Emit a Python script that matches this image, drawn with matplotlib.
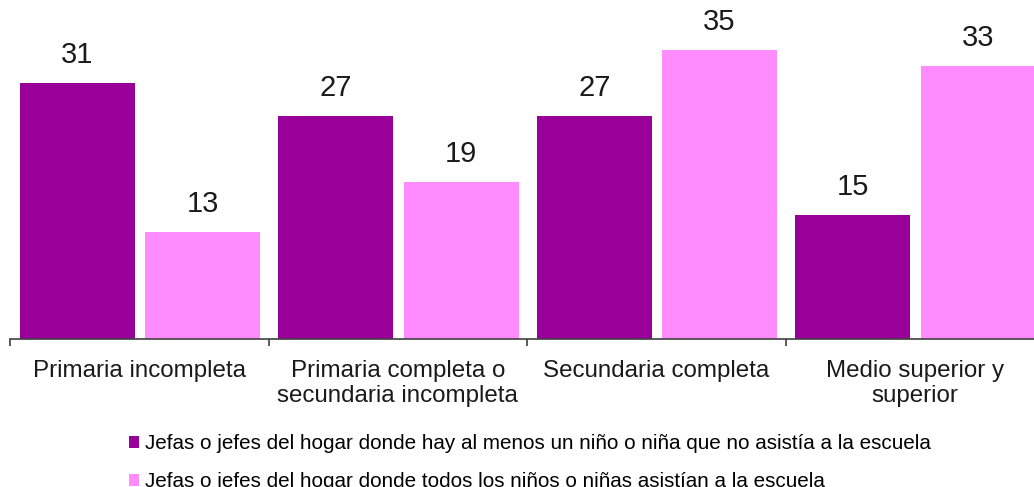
import numpy as np
import matplotlib.pyplot as plt

plt.rcParams['font.family'] = ['Liberation Sans', 'DejaVu Sans']

categories = ['Primaria incompleta',
              'Primaria completa o\nsecundaria incompleta',
              'Secundaria completa',
              'Medio superior y\nsuperior']
no_asiste = [31, 27, 27, 15]
todos_asisten = [13, 19, 35, 33]
series_names = ['Jefas o jefes del hogar donde hay al menos un niño o niña que no asistía a la escuela',
                'Jefas o jefes del hogar donde todos los niños o niñas asistían a la escuela']
purple = '#990099'
pink = '#FF8CFF'

W, H = 1034, 487
fig = plt.figure(figsize=(W/100, H/100), dpi=100)
# axes runs a bit past the right edge, like the original clipped chart
ax = fig.add_axes([10/W, (H-339)/H, 1034/W, 339/H])

x = np.arange(len(categories))
bw = 0.445
b1 = ax.bar(x - 0.239, no_asiste, bw, color=purple)
b2 = ax.bar(x + 0.245, todos_asisten, bw, color=pink)

for bars in (b1, b2):
	for r in bars:
		ax.annotate(str(int(r.get_height())), (r.get_x()+r.get_width()/2, r.get_height()),
			xytext=(0, 10), textcoords='offset points', ha='center', va='bottom',
			fontsize=21, color='#1a1a1a')

ax.set_xlim(-0.5, 3.5)
ax.set_ylim(0, 41)
ax.set_yticks([])
for s in ['top', 'right', 'left']:
	ax.spines[s].set_visible(False)
ax.spines['bottom'].set_color('#404040')
ax.spines['bottom'].set_linewidth(1.2)

ax.set_xticks(np.arange(-0.5, 4.0, 1.0))
ax.set_xticklabels([])
ax.tick_params(axis='x', which='major', direction='out', length=5, width=1.2, color='#404040')
ax.set_xticks(x, minor=True)
ax.set_xticklabels(categories, minor=True, fontsize=17.4, color='#1a1a1a', linespacing=1.2)
ax.tick_params(axis='x', which='minor', length=0, pad=15)

fig.legend([b1, b2], series_names, loc='upper left', bbox_to_anchor=(129/W, 1-(434/H)),
	frameon=False, fontsize=14.9, handlelength=0.5, handleheight=0.5, handletextpad=0.25,
	labelspacing=0.94, borderpad=0, borderaxespad=0)

fig.savefig('out.png', dpi=100)
